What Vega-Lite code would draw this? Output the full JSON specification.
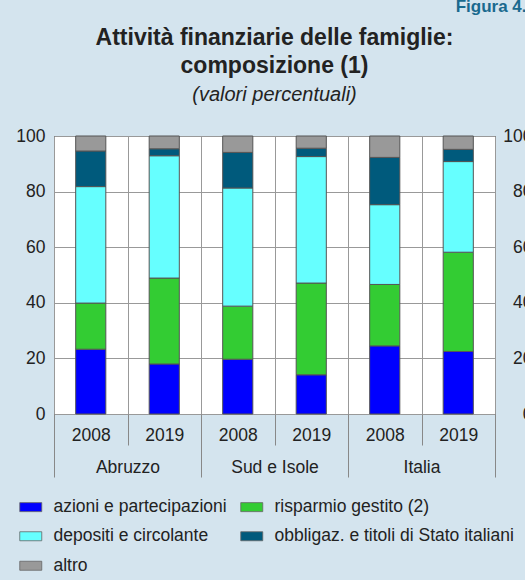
{
  "$schema": "https://vega.github.io/schema/vega-lite/v6.json",
  "background": "#d4e4ee",
  "padding": {"left": 15, "top": -3, "right": 0, "bottom": 8},
  "title": {"text": "Figura 4.", "anchor": "end", "frame": "bounds", "fontSize": 17, "font": "Liberation Sans", "fontWeight": "bold", "color": "#1a6a8f", "dy": -4, "dx": -6, "offset": 7},
  "config": {
    "font": "Liberation Sans",
    "view": {"stroke": "#222", "fill": "white"},
    "axis": {"labelFont": "Liberation Sans", "labelFontSize": 17.5, "labelColor": "#222", "labelLimit": 0}
  },
  "vconcat": [
    {
      "width": 441,
      "height": 278,
      "title": {
        "text": ["Attività finanziarie delle famiglie:", "composizione (1)"],
        "subtitle": "(valori percentuali)",
        "fontSize": 23, "fontWeight": "bold", "font": "Liberation Sans", "color": "#222", "lineHeight": 28,
        "subtitleFont": "Liberation Sans", "subtitleFontSize": 20, "subtitleFontStyle": "italic", "subtitleColor": "#222", "subtitlePadding": 7,
        "anchor": "middle", "offset": 22
      },
      "data": {"values": [
        {"region": "Abruzzo", "year": "2008", "cat": "Abruzzo|2008", "series": "azioni e partecipazioni", "ord": 1, "value": 23.3},
        {"region": "Abruzzo", "year": "2008", "cat": "Abruzzo|2008", "series": "risparmio gestito (2)", "ord": 2, "value": 16.6},
        {"region": "Abruzzo", "year": "2008", "cat": "Abruzzo|2008", "series": "depositi e circolante", "ord": 3, "value": 41.9},
        {"region": "Abruzzo", "year": "2008", "cat": "Abruzzo|2008", "series": "obbligaz. e titoli di Stato italiani", "ord": 4, "value": 12.8},
        {"region": "Abruzzo", "year": "2008", "cat": "Abruzzo|2008", "series": "altro", "ord": 5, "value": 5.4},
        {"region": "Abruzzo", "year": "2019", "cat": "Abruzzo|2019", "series": "azioni e partecipazioni", "ord": 1, "value": 18.0},
        {"region": "Abruzzo", "year": "2019", "cat": "Abruzzo|2019", "series": "risparmio gestito (2)", "ord": 2, "value": 30.9},
        {"region": "Abruzzo", "year": "2019", "cat": "Abruzzo|2019", "series": "depositi e circolante", "ord": 3, "value": 44.0},
        {"region": "Abruzzo", "year": "2019", "cat": "Abruzzo|2019", "series": "obbligaz. e titoli di Stato italiani", "ord": 4, "value": 2.5},
        {"region": "Abruzzo", "year": "2019", "cat": "Abruzzo|2019", "series": "altro", "ord": 5, "value": 4.6},
        {"region": "Sud e Isole", "year": "2008", "cat": "Sud e Isole|2008", "series": "azioni e partecipazioni", "ord": 1, "value": 19.7},
        {"region": "Sud e Isole", "year": "2008", "cat": "Sud e Isole|2008", "series": "risparmio gestito (2)", "ord": 2, "value": 19.1},
        {"region": "Sud e Isole", "year": "2008", "cat": "Sud e Isole|2008", "series": "depositi e circolante", "ord": 3, "value": 42.5},
        {"region": "Sud e Isole", "year": "2008", "cat": "Sud e Isole|2008", "series": "obbligaz. e titoli di Stato italiani", "ord": 4, "value": 12.8},
        {"region": "Sud e Isole", "year": "2008", "cat": "Sud e Isole|2008", "series": "altro", "ord": 5, "value": 5.9},
        {"region": "Sud e Isole", "year": "2019", "cat": "Sud e Isole|2019", "series": "azioni e partecipazioni", "ord": 1, "value": 14.1},
        {"region": "Sud e Isole", "year": "2019", "cat": "Sud e Isole|2019", "series": "risparmio gestito (2)", "ord": 2, "value": 33.0},
        {"region": "Sud e Isole", "year": "2019", "cat": "Sud e Isole|2019", "series": "depositi e circolante", "ord": 3, "value": 45.5},
        {"region": "Sud e Isole", "year": "2019", "cat": "Sud e Isole|2019", "series": "obbligaz. e titoli di Stato italiani", "ord": 4, "value": 3.0},
        {"region": "Sud e Isole", "year": "2019", "cat": "Sud e Isole|2019", "series": "altro", "ord": 5, "value": 4.4},
        {"region": "Italia", "year": "2008", "cat": "Italia|2008", "series": "azioni e partecipazioni", "ord": 1, "value": 24.5},
        {"region": "Italia", "year": "2008", "cat": "Italia|2008", "series": "risparmio gestito (2)", "ord": 2, "value": 22.1},
        {"region": "Italia", "year": "2008", "cat": "Italia|2008", "series": "depositi e circolante", "ord": 3, "value": 28.7},
        {"region": "Italia", "year": "2008", "cat": "Italia|2008", "series": "obbligaz. e titoli di Stato italiani", "ord": 4, "value": 17.0},
        {"region": "Italia", "year": "2008", "cat": "Italia|2008", "series": "altro", "ord": 5, "value": 7.7},
        {"region": "Italia", "year": "2019", "cat": "Italia|2019", "series": "azioni e partecipazioni", "ord": 1, "value": 22.5},
        {"region": "Italia", "year": "2019", "cat": "Italia|2019", "series": "risparmio gestito (2)", "ord": 2, "value": 35.7},
        {"region": "Italia", "year": "2019", "cat": "Italia|2019", "series": "depositi e circolante", "ord": 3, "value": 32.6},
        {"region": "Italia", "year": "2019", "cat": "Italia|2019", "series": "obbligaz. e titoli di Stato italiani", "ord": 4, "value": 4.4},
        {"region": "Italia", "year": "2019", "cat": "Italia|2019", "series": "altro", "ord": 5, "value": 4.8}
      ]},
      "layer": [
        {
          "mark": {"type": "bar", "width": {"band": 0.41}, "stroke": "#555", "strokeWidth": 1},
          "encoding": {
            "x": {
              "field": "cat", "type": "nominal",
              "scale": {"domain": ["Abruzzo|2008", "Abruzzo|2019", "Sud e Isole|2008", "Sud e Isole|2019", "Italia|2008", "Italia|2019"], "paddingInner": 0, "paddingOuter": 0},
              "axis": {"orient": "bottom", "title": null, "labelExpr": "split(datum.label, '|')[1]", "labelAngle": 0, "grid": true, "gridColor": "#999", "tickBand": "extent", "domain": false, "ticks": true, "tickSize": 31, "tickColor": "#888", "labelPadding": -10, "labelBaseline": "middle"}
            },
            "y": {
              "field": "value", "type": "quantitative", "stack": "zero",
              "scale": {"domain": [0, 100], "nice": false},
              "axis": {"orient": "left", "title": null, "values": [0, 20, 40, 60, 80, 100], "ticks": false, "labelPadding": 9, "grid": true, "gridColor": "#999", "domain": false}
            },
            "color": {
              "field": "series", "type": "nominal",
              "scale": {
                "domain": ["azioni e partecipazioni", "risparmio gestito (2)", "depositi e circolante", "obbligaz. e titoli di Stato italiani", "altro"],
                "range": ["#0000ff", "#33cc33", "#66ffff", "#005a7c", "#999999"]
              },
              "legend": {
                "orient": "none", "legendX": -32, "legendY": 362, "direction": "horizontal", "columns": 2, "title": null,
                "symbolType": "M-2.2,-0.9H2.2V0.9H-2.2Z", "symbolSize": 100, "symbolStrokeColor": "#666", "symbolStrokeWidth": 0.8, "symbolOpacity": 1,
                "labelFontSize": 17.5, "labelFont": "Liberation Sans", "labelColor": "#222", "labelLimit": 0, "labelOffset": 14, "columnPadding": 12, "rowPadding": 10.5
              }
            },
            "order": {"field": "ord", "type": "quantitative"}
          }
        },
        {
          "mark": {"type": "bar", "opacity": 0},
          "encoding": {
            "x": {
              "field": "region", "type": "nominal",
              "scale": {"domain": ["Abruzzo", "Sud e Isole", "Italia"], "paddingInner": 0, "paddingOuter": 0},
              "axis": {"orient": "bottom", "title": null, "labelAngle": 0, "grid": false, "tickBand": "extent", "domain": false, "tickSize": 63, "tickColor": "#888", "labelPadding": -10, "labelBaseline": "middle"}
            },
            "y": {
              "field": "value", "type": "quantitative", "stack": null,
              "axis": {"orient": "right", "title": null, "values": [0, 20, 40, 60, 80, 100], "ticks": false, "grid": false, "domain": false, "labelAlign": "right", "labelPadding": 37}
            }
          }
        }
      ],
      "resolve": {"scale": {"x": "independent"}, "axis": {"x": "independent", "y": "independent"}}
    }
  ]
}
